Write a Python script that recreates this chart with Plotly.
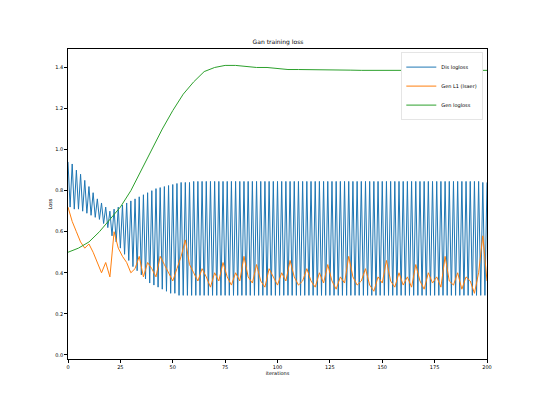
import plotly.graph_objects as go

# discriminator loss alternates every iteration: highs at even, lows at odd iterations
dis_hi = [0.94, 0.93, 0.90, 0.88, 0.85, 0.82, 0.79, 0.76, 0.74, 0.72, 0.70,
          0.71, 0.72, 0.73, 0.74, 0.75, 0.76, 0.77, 0.78, 0.79, 0.80,
          0.81, 0.815, 0.82, 0.825, 0.83, 0.835, 0.84, 0.84, 0.84, 0.845,
          0.845, 0.845, 0.845, 0.845, 0.845, 0.845, 0.845, 0.845, 0.845, 0.845,
          0.845, 0.845, 0.845, 0.845, 0.845, 0.845, 0.845, 0.845, 0.845, 0.845,
          0.845, 0.845, 0.845, 0.845, 0.845, 0.845, 0.845, 0.845, 0.845, 0.845,
          0.845, 0.845, 0.845, 0.845, 0.845, 0.845, 0.845, 0.845, 0.845, 0.845,
          0.845, 0.845, 0.845, 0.845, 0.845, 0.845, 0.845, 0.845, 0.845, 0.845,
          0.845, 0.845, 0.845, 0.845, 0.845, 0.845, 0.845, 0.845, 0.845, 0.845,
          0.845, 0.845, 0.845, 0.845, 0.845, 0.845, 0.845, 0.845, 0.84, 0.84]
dis_lo = [0.72, 0.71, 0.71, 0.70, 0.69, 0.68, 0.67, 0.66, 0.64, 0.62,
          0.58, 0.55, 0.52, 0.49, 0.46, 0.43, 0.41, 0.39, 0.37, 0.35,
          0.34, 0.33, 0.32, 0.31, 0.30, 0.30, 0.29, 0.29, 0.29, 0.29,
          0.29, 0.29, 0.29, 0.29, 0.29, 0.29, 0.29, 0.29, 0.29, 0.29,
          0.29, 0.29, 0.29, 0.29, 0.29, 0.29, 0.29, 0.29, 0.29, 0.29,
          0.29, 0.29, 0.29, 0.29, 0.29, 0.29, 0.29, 0.29, 0.29, 0.29,
          0.29, 0.29, 0.29, 0.29, 0.29, 0.29, 0.29, 0.29, 0.29, 0.29,
          0.29, 0.29, 0.29, 0.29, 0.29, 0.29, 0.29, 0.29, 0.29, 0.29,
          0.29, 0.29, 0.29, 0.29, 0.29, 0.29, 0.29, 0.29, 0.29, 0.29,
          0.29, 0.29, 0.29, 0.29, 0.29, 0.29, 0.29, 0.29, 0.29, 0.29]

# generator L1 loss, every 2 iterations
l1_iter = list(range(0, 201, 2))
gen_l1 = [0.72, 0.65, 0.60, 0.55, 0.52, 0.54, 0.50, 0.45, 0.40, 0.45, 0.38,
          0.60, 0.52, 0.48, 0.45, 0.40, 0.42, 0.48, 0.38, 0.45, 0.42,
          0.38, 0.48, 0.44, 0.40, 0.36, 0.42, 0.48, 0.56, 0.44, 0.40,
          0.36, 0.42, 0.38, 0.33, 0.40, 0.36, 0.45, 0.38, 0.34, 0.40,
          0.36, 0.48, 0.38, 0.35, 0.44, 0.36, 0.33, 0.42, 0.38, 0.34,
          0.40, 0.36, 0.46, 0.38, 0.34, 0.36, 0.42, 0.36, 0.33, 0.40,
          0.35, 0.44, 0.36, 0.32, 0.38, 0.35, 0.48, 0.38, 0.34, 0.36,
          0.42, 0.34, 0.31, 0.38, 0.35, 0.46, 0.36, 0.33, 0.40, 0.34,
          0.38, 0.33, 0.44, 0.36, 0.32, 0.40, 0.35, 0.38, 0.33, 0.48,
          0.36, 0.34, 0.40, 0.32, 0.38, 0.36, 0.30, 0.40, 0.58, 0.36, 0.26]

# generator logloss, every 5 iterations
gen_iter = list(range(0, 201, 5))
gen_log = [0.50, 0.52, 0.55, 0.60, 0.66, 0.72, 0.80, 0.90, 1.00, 1.10, 1.19,
           1.27, 1.33, 1.38, 1.40, 1.41, 1.41, 1.405, 1.40, 1.40, 1.395,
           1.39, 1.39, 1.39, 1.388, 1.388, 1.387, 1.387, 1.386, 1.386, 1.386,
           1.386, 1.386, 1.386, 1.386, 1.386, 1.386, 1.386, 1.386, 1.386, 1.386]

dis_x = list(range(0, 201))
dis_y = []
for i in dis_x:
    dis_y.append(dis_hi[i // 2] if i % 2 == 0 else dis_lo[i // 2])

fig = go.Figure()
fig.add_trace(go.Scatter(x=dis_x, y=dis_y, mode='lines', name='Dis logloss',
                         line=dict(color='#1f77b4', width=1)))
fig.add_trace(go.Scatter(x=l1_iter, y=gen_l1, mode='lines', name='Gen L1 (lsaer)',
                         line=dict(color='#ff7f0e', width=1)))
fig.add_trace(go.Scatter(x=gen_iter, y=gen_log, mode='lines', name='Gen logloss',
                         line=dict(color='#2ca02c', width=1)))

ax = dict(showline=True, linecolor='black', linewidth=0.8, mirror=True, ticks='outside',
          ticklen=3, tickcolor='black', showgrid=False, zeroline=False,
          tickfont=dict(size=5, color='black'))
fig.update_layout(
    width=540, height=405, template='simple_white',
    paper_bgcolor='white', plot_bgcolor='white',
    font=dict(family='DejaVu Sans', size=5, color='black'),
    margin=dict(l=60, r=61, t=41, b=54),
    title=dict(text='Gan training loss', x=0.5, xanchor='center', y=0.912, yanchor='bottom',
               font=dict(size=6, color='black')),
    xaxis=dict(ax, range=[0, 200], tickvals=[0, 25, 50, 75, 100, 125, 150, 175, 200],
               title=dict(text='iterations', font=dict(size=5), standoff=2)),
    yaxis=dict(ax, range=[-0.02, 1.49], tickvals=[0, 0.2, 0.4, 0.6, 0.8, 1.0, 1.2, 1.4],
               tickformat='.1f', title=dict(text='Loss', font=dict(size=5), standoff=2)),
    legend=dict(x=0.99, y=0.99, xanchor='right', yanchor='top', bgcolor='white',
                bordercolor='#cccccc', borderwidth=0.5, font=dict(size=5),
                itemwidth=30, tracegroupgap=0),
)
fig.write_html("out.html")
